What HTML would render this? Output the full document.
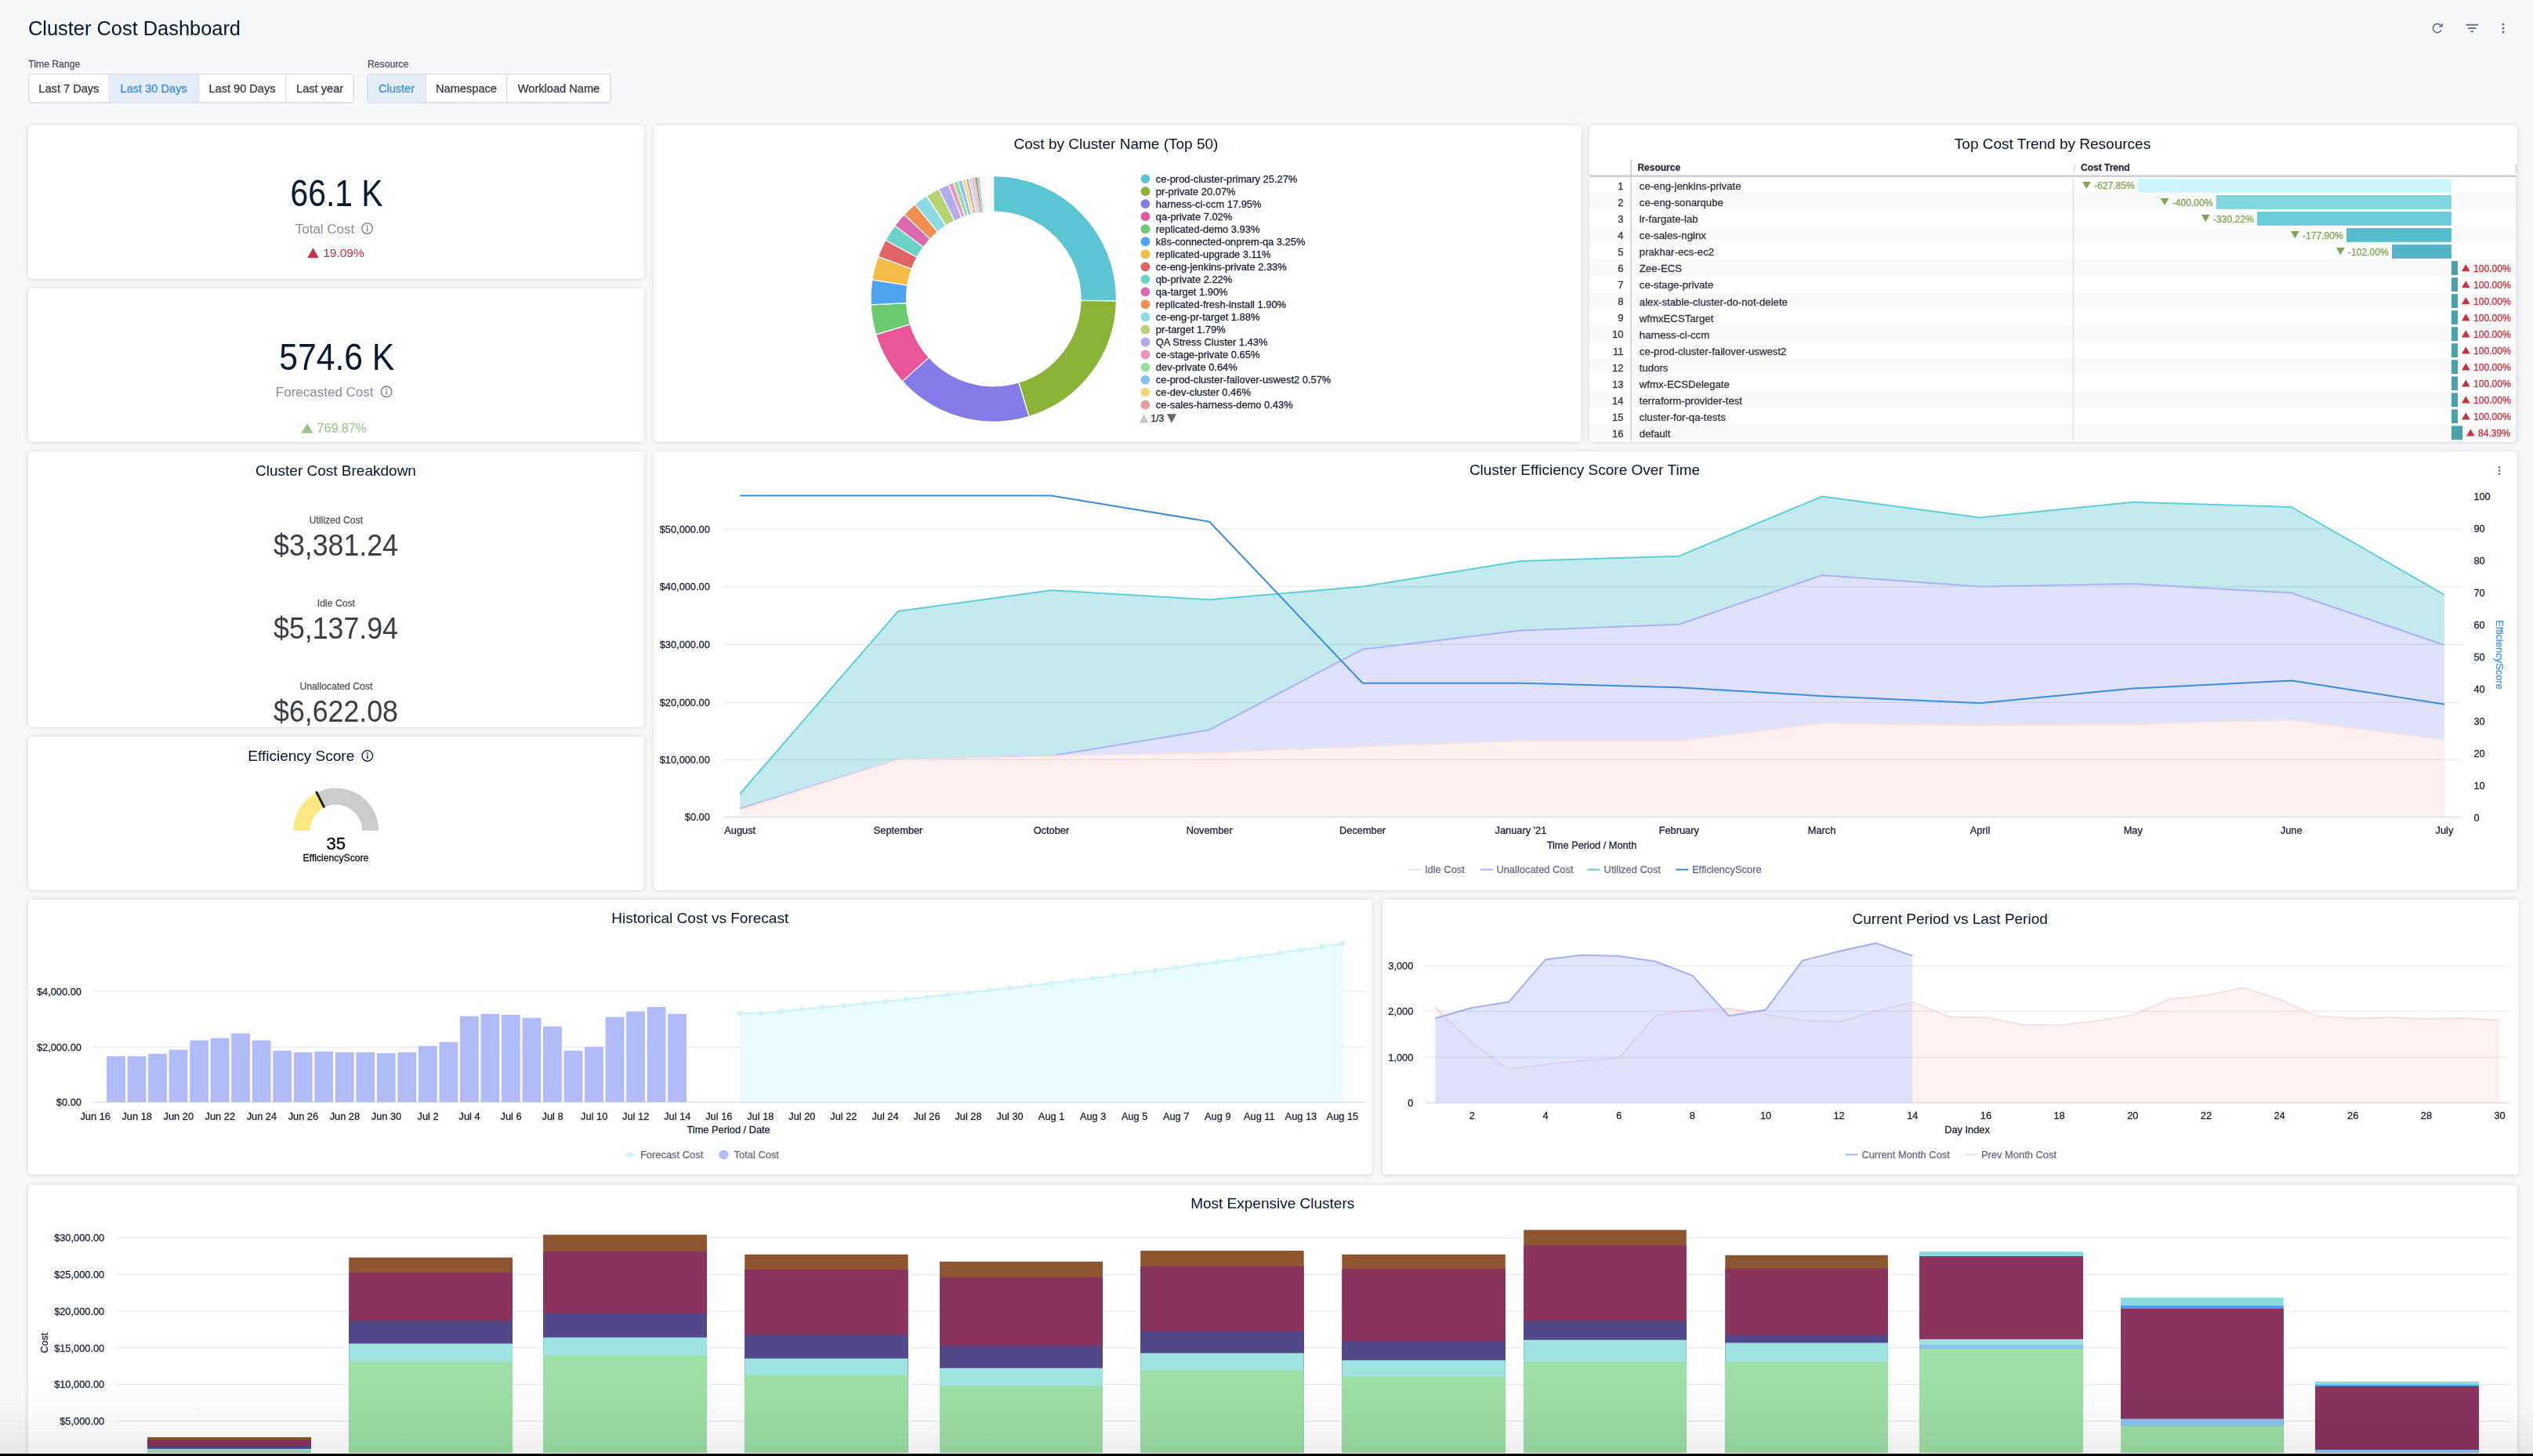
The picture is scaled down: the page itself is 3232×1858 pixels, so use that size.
<!DOCTYPE html>
<html><head><meta charset="utf-8"><style>
html,body{margin:0;padding:0;background:#f7f8fa;width:3232px;height:1858px;overflow:hidden}
svg{display:block;will-change:transform;font-family:"Liberation Sans", sans-serif}
text{stroke:currentColor;stroke-width:0.3px}
</style></head><body>
<svg width="3232" height="1858" viewBox="0 0 3232 1858">
<defs>
<filter id="sh" x="-5%" y="-5%" width="110%" height="110%">
<feDropShadow dx="0" dy="0" stdDeviation="4.5" flood-color="#000" flood-opacity="0.085"/>
<feDropShadow dx="0" dy="0.5" stdDeviation="0.8" flood-color="#000" flood-opacity="0.10"/>
</filter>
<linearGradient id="fade" x1="0" y1="0" x2="0" y2="1">
<stop offset="0" stop-color="#000" stop-opacity="0"/>
<stop offset="0.45" stop-color="#000" stop-opacity="0.02"/>
<stop offset="1" stop-color="#000" stop-opacity="0.068"/>
</linearGradient>
</defs>
<rect x="0" y="0" width="3232" height="1858" fill="#f7f8fa"/>
<text x="36.0" y="44.6" font-size="25.4" fill="#0b1a33" color="#0b1a33" text-anchor="start" style="stroke-width:0.05px" >Cluster Cost Dashboard</text>
<path d="M3114.94,38.63 A5.6,5.6 0 1 1 3114.16,32.25" fill="none" stroke="#6b7385" stroke-width="1.7"/>
<path d="M3116.8,29.2 L3116.8,34.6 L3111.3,34.6 Z" fill="#6b7385"/>
<rect x="3146.50" y="30.70" width="15.50" height="2.00" fill="#6b7385" />
<rect x="3149.20" y="35.00" width="10.00" height="2.00" fill="#6b7385" />
<rect x="3152.30" y="39.20" width="3.80" height="2.00" fill="#6b7385" />
<circle cx="3194" cy="31" r="1.6" fill="#6b7385"/>
<circle cx="3194" cy="36" r="1.6" fill="#6b7385"/>
<circle cx="3194" cy="41" r="1.6" fill="#6b7385"/>
<text x="36.3" y="86.0" font-size="12.2" fill="#4f5162" color="#4f5162" text-anchor="start" >Time Range</text>
<text x="469.0" y="86.0" font-size="12.2" fill="#4f5162" color="#4f5162" text-anchor="start" >Resource</text>
<rect x="36.6" y="94.5" width="414.7" height="36.5" rx="4" fill="#fff" stroke="#d9dae5" stroke-width="1.2"/>
<text x="87.9" y="118.4" font-size="14.6" fill="#383946" color="#383946" text-anchor="middle" >Last 7 Days</text>
<rect x="139.79999999999998" y="95.1" width="112.8" height="35.3" fill="#e5edf8"/>
<text x="196.2" y="118.4" font-size="14.6" fill="#3f8ee2" color="#3f8ee2" text-anchor="middle" >Last 30 Days</text>
<text x="309.0" y="118.4" font-size="14.6" fill="#383946" color="#383946" text-anchor="middle" >Last 90 Days</text>
<text x="408.1" y="118.4" font-size="14.6" fill="#383946" color="#383946" text-anchor="middle" >Last year</text>
<line x1="139.20" y1="94.50" x2="139.20" y2="131.00" stroke="#d9dae5" stroke-width="1.2" />
<line x1="253.20" y1="94.50" x2="253.20" y2="131.00" stroke="#d9dae5" stroke-width="1.2" />
<line x1="364.80" y1="94.50" x2="364.80" y2="131.00" stroke="#d9dae5" stroke-width="1.2" />
<rect x="36.6" y="94.5" width="414.7" height="36.5" rx="4" fill="none" stroke="#d9dae5" stroke-width="1.2"/>
<rect x="468.8" y="94.5" width="310.40000000000003" height="36.5" rx="4" fill="#fff" stroke="#d9dae5" stroke-width="1.2"/>
<rect x="469.40000000000003" y="95.1" width="73.20000000000003" height="35.3" fill="#e5edf8"/>
<text x="506.0" y="118.4" font-size="14.6" fill="#3f8ee2" color="#3f8ee2" text-anchor="middle" >Cluster</text>
<text x="595.0" y="118.4" font-size="14.6" fill="#383946" color="#383946" text-anchor="middle" >Namespace</text>
<text x="713.0" y="118.4" font-size="14.6" fill="#383946" color="#383946" text-anchor="middle" >Workload Name</text>
<line x1="543.20" y1="94.50" x2="543.20" y2="131.00" stroke="#d9dae5" stroke-width="1.2" />
<line x1="646.80" y1="94.50" x2="646.80" y2="131.00" stroke="#d9dae5" stroke-width="1.2" />
<rect x="468.8" y="94.5" width="310.40000000000003" height="36.5" rx="4" fill="none" stroke="#d9dae5" stroke-width="1.2"/>
<rect x="36" y="160" width="786" height="196" rx="5" fill="#fff" filter="url(#sh)"/>
<rect x="36" y="368" width="786" height="196" rx="5" fill="#fff" filter="url(#sh)"/>
<rect x="36" y="576" width="786" height="352" rx="5" fill="#fff" filter="url(#sh)"/>
<rect x="36" y="940" width="786" height="196" rx="5" fill="#fff" filter="url(#sh)"/>
<rect x="834" y="160" width="1184" height="404" rx="5" fill="#fff" filter="url(#sh)"/>
<rect x="2028" y="160" width="1184" height="404" rx="5" fill="#fff" filter="url(#sh)"/>
<rect x="834" y="576" width="2378" height="560" rx="5" fill="#fff" filter="url(#sh)"/>
<rect x="36" y="1148" width="1715" height="351" rx="5" fill="#fff" filter="url(#sh)"/>
<rect x="1764" y="1148" width="1450" height="351" rx="5" fill="#fff" filter="url(#sh)"/>
<rect x="36" y="1512" width="3176" height="388" rx="5" fill="#fff" filter="url(#sh)"/>
<text transform="translate(429.5,263.2) scale(0.852,1)" font-size="48" fill="#0b1a33" color="#0b1a33" text-anchor="middle" style="stroke-width:0.05px" >66.1 K</text>
<text x="414.5" y="298.0" font-size="17" fill="#8a8d9f" color="#8a8d9f" text-anchor="middle" style="stroke-width:0.05px" >Total Cost</text>
<circle cx="468.6" cy="291.5" r="6.8" fill="none" stroke="#717887" stroke-width="1.3"/>
<circle cx="468.6" cy="288.3" r="1" fill="#717887"/>
<line x1="468.6" y1="290.5" x2="468.6" y2="295.5" stroke="#717887" stroke-width="1.4"/>
<path d="M392.3,329 L406.6,329 L399.45,316.2 Z" fill="#c8323e"/>
<text x="412.2" y="327.9" font-size="15.5" fill="#c8323e" color="#c8323e" text-anchor="start" style="stroke-width:0.05px" >19.09%</text>
<text transform="translate(429.8,471.6) scale(0.888,1)" font-size="48" fill="#0b1a33" color="#0b1a33" text-anchor="middle" style="stroke-width:0.05px" >574.6 K</text>
<text x="414.2" y="506.2" font-size="17" fill="#8a8d9f" color="#8a8d9f" text-anchor="middle" style="stroke-width:0.05px" >Forecasted Cost</text>
<circle cx="493.1" cy="499.8" r="6.8" fill="none" stroke="#717887" stroke-width="1.3"/>
<circle cx="493.1" cy="496.6" r="1" fill="#717887"/>
<line x1="493.1" y1="498.8" x2="493.1" y2="503.8" stroke="#717887" stroke-width="1.4"/>
<path d="M384.7,552.8 L399.3,552.8 L392,540 Z" fill="#9cc48a"/>
<text x="404.6" y="551.9" font-size="16" fill="#9cc48a" color="#9cc48a" text-anchor="start" style="stroke-width:0.05px" >769.87%</text>
<text x="428.5" y="606.8" font-size="19" fill="#0b1a33" color="#0b1a33" text-anchor="middle" style="stroke-width:0.05px" >Cluster Cost Breakdown</text>
<text x="428.9" y="668.1" font-size="12.2" fill="#555960" color="#555960" text-anchor="middle" >Utilized Cost</text>
<text transform="translate(428.5,708.6) scale(0.94,1)" font-size="38" fill="#3b4046" color="#3b4046" text-anchor="middle" style="stroke-width:0.05px" >$3,381.24</text>
<text x="428.9" y="774.0" font-size="12.2" fill="#555960" color="#555960" text-anchor="middle" >Idle Cost</text>
<text transform="translate(428.5,814.6) scale(0.94,1)" font-size="38" fill="#3b4046" color="#3b4046" text-anchor="middle" style="stroke-width:0.05px" >$5,137.94</text>
<text x="428.9" y="880.2" font-size="12.2" fill="#555960" color="#555960" text-anchor="middle" >Unallocated Cost</text>
<text transform="translate(428.5,920.6) scale(0.94,1)" font-size="38" fill="#3b4046" color="#3b4046" text-anchor="middle" style="stroke-width:0.05px" >$6,622.08</text>
<text x="384.3" y="970.7" font-size="19" fill="#0b1a33" color="#0b1a33" text-anchor="middle" style="stroke-width:0.05px" >Efficiency Score</text>
<circle cx="468.8" cy="964.5" r="6.8" fill="none" stroke="#0b1a33" stroke-width="1.3"/>
<circle cx="468.8" cy="961.3" r="1" fill="#0b1a33"/>
<line x1="468.8" y1="963.5" x2="468.8" y2="968.5" stroke="#0b1a33" stroke-width="1.4"/>
<path d="M374.40,1060.00 A54.4,54.4 0 0 1 404.10,1011.53 L413.73,1030.42 A33.2,33.2 0 0 0 395.60,1060.00 Z" fill="#fce983"/>
<path d="M404.10,1011.53 A54.4,54.4 0 0 1 483.20,1060.00 L462.00,1060.00 A33.2,33.2 0 0 0 413.73,1030.42 Z" fill="#cccccc"/>
<line x1="413.82" y1="1030.60" x2="403.38" y2="1010.10" stroke="#1e1e1e" stroke-width="3"/>
<text x="428.8" y="1084.4" font-size="22" fill="#111" color="#111" text-anchor="middle" style="stroke-width:0.45px">35</text>
<text x="428.5" y="1099.4" font-size="12.2" fill="#111" color="#111" text-anchor="middle" >EfficiencyScore</text>
<text x="1424.0" y="190.1" font-size="19" fill="#0b1a33" color="#0b1a33" text-anchor="middle" style="stroke-width:0.05px" >Cost by Cluster Name (Top 50)</text>
<path d="M1267.70,224.60 A156.8,156.8 0 0 1 1424.48,384.06 L1378.98,383.29 A111.3,111.3 0 0 0 1267.70,270.10 Z" fill="#5bc5d4" stroke="#fff" stroke-width="1.2"/>
<path d="M1424.48,384.06 A156.8,156.8 0 0 1 1312.96,531.53 L1299.82,487.96 A111.3,111.3 0 0 0 1378.98,383.29 Z" fill="#8bb336" stroke="#fff" stroke-width="1.2"/>
<path d="M1312.96,531.53 A156.8,156.8 0 0 1 1151.46,486.64 L1185.19,456.10 A111.3,111.3 0 0 0 1299.82,487.96 Z" fill="#857be6" stroke="#fff" stroke-width="1.2"/>
<path d="M1151.46,486.64 A156.8,156.8 0 0 1 1117.66,426.94 L1161.20,413.73 A111.3,111.3 0 0 0 1185.19,456.10 Z" fill="#ea559a" stroke="#fff" stroke-width="1.2"/>
<path d="M1117.66,426.94 A156.8,156.8 0 0 1 1111.08,388.88 L1156.53,386.71 A111.3,111.3 0 0 0 1161.20,413.73 Z" fill="#6bcb70" stroke="#fff" stroke-width="1.2"/>
<path d="M1111.08,388.88 A156.8,156.8 0 0 1 1112.82,356.97 L1157.76,364.06 A111.3,111.3 0 0 0 1156.53,386.71 Z" fill="#50a3ee" stroke="#fff" stroke-width="1.2"/>
<path d="M1112.82,356.97 A156.8,156.8 0 0 1 1120.51,327.36 L1163.22,343.04 A111.3,111.3 0 0 0 1157.76,364.06 Z" fill="#f5bc47" stroke="#fff" stroke-width="1.2"/>
<path d="M1120.51,327.36 A156.8,156.8 0 0 1 1129.96,306.47 L1169.93,328.21 A111.3,111.3 0 0 0 1163.22,343.04 Z" fill="#e06465" stroke="#fff" stroke-width="1.2"/>
<path d="M1129.96,306.47 A156.8,156.8 0 0 1 1141.72,288.04 L1178.28,315.13 A111.3,111.3 0 0 0 1169.93,328.21 Z" fill="#6cd3c9" stroke="#fff" stroke-width="1.2"/>
<path d="M1141.72,288.04 A156.8,156.8 0 0 1 1153.74,273.70 L1186.81,304.96 A111.3,111.3 0 0 0 1178.28,315.13 Z" fill="#dd69b1" stroke="#fff" stroke-width="1.2"/>
<path d="M1153.74,273.70 A156.8,156.8 0 0 1 1167.37,260.90 L1196.49,295.87 A111.3,111.3 0 0 0 1186.81,304.96 Z" fill="#f0904f" stroke="#fff" stroke-width="1.2"/>
<path d="M1167.37,260.90 A156.8,156.8 0 0 1 1182.27,249.91 L1207.06,288.07 A111.3,111.3 0 0 0 1196.49,295.87 Z" fill="#8bdbe5" stroke="#fff" stroke-width="1.2"/>
<path d="M1182.27,249.91 A156.8,156.8 0 0 1 1197.57,241.16 L1217.92,281.85 A111.3,111.3 0 0 0 1207.06,288.07 Z" fill="#b8d373" stroke="#fff" stroke-width="1.2"/>
<path d="M1197.57,241.16 A156.8,156.8 0 0 1 1210.44,235.43 L1227.05,277.79 A111.3,111.3 0 0 0 1217.92,281.85 Z" fill="#b5acf0" stroke="#fff" stroke-width="1.2"/>
<path d="M1210.44,235.43 A156.8,156.8 0 0 1 1216.44,233.21 L1231.32,276.21 A111.3,111.3 0 0 0 1227.05,277.79 Z" fill="#ef93c3" stroke="#fff" stroke-width="1.2"/>
<path d="M1216.44,233.21 A156.8,156.8 0 0 1 1222.44,231.27 L1235.58,274.84 A111.3,111.3 0 0 0 1231.32,276.21 Z" fill="#98dea0" stroke="#fff" stroke-width="1.2"/>
<path d="M1222.44,231.27 A156.8,156.8 0 0 1 1227.85,229.75 L1239.41,273.75 A111.3,111.3 0 0 0 1235.58,274.84 Z" fill="#85c4f3" stroke="#fff" stroke-width="1.2"/>
<path d="M1227.85,229.75 A156.8,156.8 0 0 1 1232.25,228.66 L1242.53,272.98 A111.3,111.3 0 0 0 1239.41,273.75 Z" fill="#f8d67a" stroke="#fff" stroke-width="1.2"/>
<path d="M1232.25,228.66 A156.8,156.8 0 0 1 1236.39,227.76 L1245.47,272.34 A111.3,111.3 0 0 0 1242.53,272.98 Z" fill="#e99d9d" stroke="#fff" stroke-width="1.2"/>
<path d="M1236.39,227.76 A156.8,156.8 0 0 1 1239.47,227.16 L1247.66,271.92 A111.3,111.3 0 0 0 1245.47,272.34 Z" fill="#8fe3dc" stroke="#fff" stroke-width="1.2"/>
<path d="M1239.47,227.16 A156.8,156.8 0 0 1 1242.15,226.70 L1249.57,271.59 A111.3,111.3 0 0 0 1247.66,271.92 Z" fill="#eea5dc" stroke="#fff" stroke-width="0.5"/>
<path d="M1242.15,226.70 A156.8,156.8 0 0 1 1244.43,226.34 L1251.18,271.33 A111.3,111.3 0 0 0 1249.57,271.59 Z" fill="#f5b07f" stroke="#fff" stroke-width="0.5"/>
<path d="M1244.43,226.34 A156.8,156.8 0 0 1 1246.40,226.05 L1252.58,271.13 A111.3,111.3 0 0 0 1251.18,271.33 Z" fill="#2f7b88" stroke="#fff" stroke-width="0.5"/>
<path d="M1246.40,226.05 A156.8,156.8 0 0 1 1248.16,225.82 L1253.83,270.97 A111.3,111.3 0 0 0 1252.58,271.13 Z" fill="#a3b56c" stroke="#fff" stroke-width="0.5"/>
<path d="M1248.16,225.82 A156.8,156.8 0 0 1 1249.72,225.63 L1254.94,270.83 A111.3,111.3 0 0 0 1253.83,270.97 Z" fill="#9a93d3" stroke="#fff" stroke-width="0.5"/>
<path d="M1249.72,225.63 A156.8,156.8 0 0 1 1251.08,225.48 L1255.90,270.73 A111.3,111.3 0 0 0 1254.94,270.83 Z" fill="#e5e5ea" stroke="#fff" stroke-width="0.5"/>
<path d="M1251.08,225.48 A156.8,156.8 0 0 1 1252.33,225.36 L1256.79,270.64 A111.3,111.3 0 0 0 1255.90,270.73 Z" fill="#f0e6ea" stroke="#fff" stroke-width="0.5"/>
<path d="M1252.33,225.36 A156.8,156.8 0 0 1 1253.48,225.25 L1257.60,270.56 A111.3,111.3 0 0 0 1256.79,270.64 Z" fill="#eef4f4" stroke="#fff" stroke-width="0.5"/>
<path d="M1253.48,225.25 A156.8,156.8 0 0 1 1254.52,225.16 L1258.34,270.49 A111.3,111.3 0 0 0 1257.60,270.56 Z" fill="#f4eef0" stroke="#fff" stroke-width="0.5"/>
<path d="M1254.52,225.16 A156.8,156.8 0 0 1 1255.14,225.10 L1258.79,270.46 A111.3,111.3 0 0 0 1258.34,270.49 Z" fill="#eeeeee" stroke="#fff" stroke-width="0.5"/>
<path d="M1255.14,225.10 A156.8,156.8 0 0 1 1255.77,225.05 L1259.23,270.42 A111.3,111.3 0 0 0 1258.79,270.46 Z" fill="#eeeeee" stroke="#fff" stroke-width="0.5"/>
<path d="M1255.77,225.05 A156.8,156.8 0 0 1 1256.40,225.01 L1259.68,270.39 A111.3,111.3 0 0 0 1259.23,270.42 Z" fill="#eeeeee" stroke="#fff" stroke-width="0.5"/>
<path d="M1256.40,225.01 A156.8,156.8 0 0 1 1257.02,224.96 L1260.12,270.36 A111.3,111.3 0 0 0 1259.68,270.39 Z" fill="#eeeeee" stroke="#fff" stroke-width="0.5"/>
<path d="M1257.02,224.96 A156.8,156.8 0 0 1 1257.65,224.92 L1260.57,270.33 A111.3,111.3 0 0 0 1260.12,270.36 Z" fill="#eeeeee" stroke="#fff" stroke-width="0.5"/>
<path d="M1257.65,224.92 A156.8,156.8 0 0 1 1258.28,224.88 L1261.01,270.30 A111.3,111.3 0 0 0 1260.57,270.33 Z" fill="#eeeeee" stroke="#fff" stroke-width="0.5"/>
<path d="M1258.28,224.88 A156.8,156.8 0 0 1 1258.91,224.85 L1261.46,270.28 A111.3,111.3 0 0 0 1261.01,270.30 Z" fill="#eeeeee" stroke="#fff" stroke-width="0.5"/>
<path d="M1258.91,224.85 A156.8,156.8 0 0 1 1259.53,224.81 L1261.90,270.25 A111.3,111.3 0 0 0 1261.46,270.28 Z" fill="#eeeeee" stroke="#fff" stroke-width="0.5"/>
<path d="M1259.53,224.81 A156.8,156.8 0 0 1 1260.16,224.78 L1262.35,270.23 A111.3,111.3 0 0 0 1261.90,270.25 Z" fill="#eeeeee" stroke="#fff" stroke-width="0.5"/>
<path d="M1260.16,224.78 A156.8,156.8 0 0 1 1260.79,224.75 L1262.79,270.21 A111.3,111.3 0 0 0 1262.35,270.23 Z" fill="#eeeeee" stroke="#fff" stroke-width="0.5"/>
<path d="M1260.79,224.75 A156.8,156.8 0 0 1 1261.42,224.73 L1263.24,270.19 A111.3,111.3 0 0 0 1262.79,270.21 Z" fill="#eeeeee" stroke="#fff" stroke-width="0.5"/>
<path d="M1261.42,224.73 A156.8,156.8 0 0 1 1262.05,224.70 L1263.69,270.17 A111.3,111.3 0 0 0 1263.24,270.19 Z" fill="#eeeeee" stroke="#fff" stroke-width="0.5"/>
<path d="M1262.05,224.70 A156.8,156.8 0 0 1 1262.67,224.68 L1264.13,270.16 A111.3,111.3 0 0 0 1263.69,270.17 Z" fill="#eeeeee" stroke="#fff" stroke-width="0.5"/>
<path d="M1262.67,224.68 A156.8,156.8 0 0 1 1263.30,224.66 L1264.58,270.14 A111.3,111.3 0 0 0 1264.13,270.16 Z" fill="#eeeeee" stroke="#fff" stroke-width="0.5"/>
<path d="M1263.30,224.66 A156.8,156.8 0 0 1 1263.93,224.65 L1265.02,270.13 A111.3,111.3 0 0 0 1264.58,270.14 Z" fill="#eeeeee" stroke="#fff" stroke-width="0.5"/>
<path d="M1263.93,224.65 A156.8,156.8 0 0 1 1264.56,224.63 L1265.47,270.12 A111.3,111.3 0 0 0 1265.02,270.13 Z" fill="#eeeeee" stroke="#fff" stroke-width="0.5"/>
<path d="M1264.56,224.63 A156.8,156.8 0 0 1 1265.19,224.62 L1265.92,270.11 A111.3,111.3 0 0 0 1265.47,270.12 Z" fill="#eeeeee" stroke="#fff" stroke-width="0.5"/>
<path d="M1265.19,224.62 A156.8,156.8 0 0 1 1265.81,224.61 L1266.36,270.11 A111.3,111.3 0 0 0 1265.92,270.11 Z" fill="#eeeeee" stroke="#fff" stroke-width="0.5"/>
<path d="M1265.81,224.61 A156.8,156.8 0 0 1 1266.44,224.61 L1266.81,270.10 A111.3,111.3 0 0 0 1266.36,270.11 Z" fill="#eeeeee" stroke="#fff" stroke-width="0.5"/>
<path d="M1266.44,224.61 A156.8,156.8 0 0 1 1267.07,224.60 L1267.25,270.10 A111.3,111.3 0 0 0 1266.81,270.10 Z" fill="#eeeeee" stroke="#fff" stroke-width="0.5"/>
<path d="M1267.07,224.60 A156.8,156.8 0 0 1 1267.70,224.60 L1267.70,270.10 A111.3,111.3 0 0 0 1267.25,270.10 Z" fill="#eeeeee" stroke="#fff" stroke-width="0.5"/>
<circle cx="1461.4" cy="228.10" r="5.9" fill="#5bc5d4"/>
<text x="1474.8" y="232.7" font-size="12.9" fill="#1b2235" color="#1b2235" text-anchor="start" >ce-prod-cluster-primary 25.27%</text>
<circle cx="1461.4" cy="244.13" r="5.9" fill="#8bb336"/>
<text x="1474.8" y="248.7" font-size="12.9" fill="#1b2235" color="#1b2235" text-anchor="start" >pr-private 20.07%</text>
<circle cx="1461.4" cy="260.16" r="5.9" fill="#857be6"/>
<text x="1474.8" y="264.8" font-size="12.9" fill="#1b2235" color="#1b2235" text-anchor="start" >harness-ci-ccm 17.95%</text>
<circle cx="1461.4" cy="276.19" r="5.9" fill="#ea559a"/>
<text x="1474.8" y="280.8" font-size="12.9" fill="#1b2235" color="#1b2235" text-anchor="start" >qa-private 7.02%</text>
<circle cx="1461.4" cy="292.22" r="5.9" fill="#6bcb70"/>
<text x="1474.8" y="296.8" font-size="12.9" fill="#1b2235" color="#1b2235" text-anchor="start" >replicated-demo 3.93%</text>
<circle cx="1461.4" cy="308.25" r="5.9" fill="#50a3ee"/>
<text x="1474.8" y="312.9" font-size="12.9" fill="#1b2235" color="#1b2235" text-anchor="start" >k8s-connected-onprem-qa 3.25%</text>
<circle cx="1461.4" cy="324.28" r="5.9" fill="#f5bc47"/>
<text x="1474.8" y="328.9" font-size="12.9" fill="#1b2235" color="#1b2235" text-anchor="start" >replicated-upgrade 3.11%</text>
<circle cx="1461.4" cy="340.31" r="5.9" fill="#e06465"/>
<text x="1474.8" y="344.9" font-size="12.9" fill="#1b2235" color="#1b2235" text-anchor="start" >ce-eng-jenkins-private 2.33%</text>
<circle cx="1461.4" cy="356.34" r="5.9" fill="#6cd3c9"/>
<text x="1474.8" y="361.0" font-size="12.9" fill="#1b2235" color="#1b2235" text-anchor="start" >qb-private 2.22%</text>
<circle cx="1461.4" cy="372.37" r="5.9" fill="#dd69b1"/>
<text x="1474.8" y="377.0" font-size="12.9" fill="#1b2235" color="#1b2235" text-anchor="start" >qa-target 1.90%</text>
<circle cx="1461.4" cy="388.40" r="5.9" fill="#f0904f"/>
<text x="1474.8" y="393.0" font-size="12.9" fill="#1b2235" color="#1b2235" text-anchor="start" >replicated-fresh-install 1.90%</text>
<circle cx="1461.4" cy="404.43" r="5.9" fill="#8bdbe5"/>
<text x="1474.8" y="409.0" font-size="12.9" fill="#1b2235" color="#1b2235" text-anchor="start" >ce-eng-pr-target 1.88%</text>
<circle cx="1461.4" cy="420.46" r="5.9" fill="#b8d373"/>
<text x="1474.8" y="425.1" font-size="12.9" fill="#1b2235" color="#1b2235" text-anchor="start" >pr-target 1.79%</text>
<circle cx="1461.4" cy="436.49" r="5.9" fill="#b5acf0"/>
<text x="1474.8" y="441.1" font-size="12.9" fill="#1b2235" color="#1b2235" text-anchor="start" >QA Stress Cluster 1.43%</text>
<circle cx="1461.4" cy="452.52" r="5.9" fill="#ef93c3"/>
<text x="1474.8" y="457.1" font-size="12.9" fill="#1b2235" color="#1b2235" text-anchor="start" >ce-stage-private 0.65%</text>
<circle cx="1461.4" cy="468.55" r="5.9" fill="#98dea0"/>
<text x="1474.8" y="473.2" font-size="12.9" fill="#1b2235" color="#1b2235" text-anchor="start" >dev-private 0.64%</text>
<circle cx="1461.4" cy="484.58" r="5.9" fill="#85c4f3"/>
<text x="1474.8" y="489.2" font-size="12.9" fill="#1b2235" color="#1b2235" text-anchor="start" >ce-prod-cluster-failover-uswest2 0.57%</text>
<circle cx="1461.4" cy="500.61" r="5.9" fill="#f8d67a"/>
<text x="1474.8" y="505.2" font-size="12.9" fill="#1b2235" color="#1b2235" text-anchor="start" >ce-dev-cluster 0.46%</text>
<circle cx="1461.4" cy="516.64" r="5.9" fill="#e99d9d"/>
<text x="1474.8" y="521.3" font-size="12.9" fill="#1b2235" color="#1b2235" text-anchor="start" >ce-sales-harness-demo 0.43%</text>
<path d="M1453.7,539.8 L1465.5,539.8 L1459.6,528.2 Z" fill="#c8c8c8"/>
<text x="1468.4" y="538.0" font-size="12.2" fill="#1b2235" color="#1b2235" text-anchor="start" >1/3</text>
<path d="M1488.9,528.2 L1501,528.2 L1494.95,539.8 Z" fill="#666"/>
<text x="2619.0" y="190.3" font-size="19" fill="#0b1a33" color="#0b1a33" text-anchor="middle" style="stroke-width:0.05px" >Top Cost Trend by Resources</text>
<text x="2089.4" y="217.9" font-size="12" fill="#30333e" color="#30333e" text-anchor="start" font-weight="bold" >Resource</text>
<text x="2655.0" y="217.9" font-size="12" fill="#30333e" color="#30333e" text-anchor="start" font-weight="bold" >Cost Trend</text>
<line x1="2081.20" y1="204.00" x2="2081.20" y2="224.00" stroke="#c9cbd2" stroke-width="1.5" />
<line x1="2646.80" y1="209.00" x2="2646.80" y2="220.00" stroke="#c9cbd2" stroke-width="1" />
<rect x="3209.50" y="209.00" width="2.00" height="12.00" fill="#d6d7dc" />
<rect x="2028.00" y="223.60" width="1183.00" height="2.20" fill="#c5c7cd" />
<rect x="2028.00" y="247.03" width="1182.00" height="21.03" fill="#fafafa" />
<rect x="2028.00" y="289.09" width="1182.00" height="21.03" fill="#fafafa" />
<rect x="2028.00" y="331.15" width="1182.00" height="21.03" fill="#fafafa" />
<rect x="2028.00" y="373.21" width="1182.00" height="21.03" fill="#fafafa" />
<rect x="2028.00" y="415.27" width="1182.00" height="21.03" fill="#fafafa" />
<rect x="2028.00" y="457.33" width="1182.00" height="21.03" fill="#fafafa" />
<rect x="2028.00" y="499.39" width="1182.00" height="21.03" fill="#fafafa" />
<rect x="2028.00" y="541.45" width="1182.00" height="21.03" fill="#fafafa" />
<text x="2071.5" y="242.2" font-size="13" fill="#30333e" color="#30333e" text-anchor="end" >1</text>
<text x="2091.8" y="242.2" font-size="13.2" fill="#30333e" color="#30333e" text-anchor="start" >ce-eng-jenkins-private</text>
<path d="M2657.0,232.0 L2667.7,232.0 L2662.3,241.1 Z" fill="#7ea652"/>
<text x="2672.0" y="241.4" font-size="12.1" fill="#7ea652" color="#7ea652" text-anchor="start" >-627.85%</text>
<rect x="2728.00" y="228.00" width="399.90" height="17.80" fill="#cbf6fb" />
<text x="2071.5" y="263.2" font-size="13" fill="#30333e" color="#30333e" text-anchor="end" >2</text>
<text x="2091.8" y="263.3" font-size="13.2" fill="#30333e" color="#30333e" text-anchor="start" >ce-eng-sonarqube</text>
<path d="M2756.7,253.0 L2767.4,253.0 L2762.0,262.1 Z" fill="#7ea652"/>
<text x="2771.7" y="262.5" font-size="12.1" fill="#7ea652" color="#7ea652" text-anchor="start" >-400.00%</text>
<rect x="2827.70" y="249.03" width="300.20" height="17.80" fill="#7fd5e0" />
<text x="2071.5" y="284.2" font-size="13" fill="#30333e" color="#30333e" text-anchor="end" >3</text>
<text x="2091.8" y="284.3" font-size="13.2" fill="#30333e" color="#30333e" text-anchor="start" >lr-fargate-lab</text>
<path d="M2809.0,274.1 L2819.7,274.1 L2814.3,283.2 Z" fill="#7ea652"/>
<text x="2824.0" y="283.5" font-size="12.1" fill="#7ea652" color="#7ea652" text-anchor="start" >-330.22%</text>
<rect x="2880.00" y="270.06" width="247.90" height="17.80" fill="#6acbdb" />
<text x="2071.5" y="305.3" font-size="13" fill="#30333e" color="#30333e" text-anchor="end" >4</text>
<text x="2091.8" y="305.3" font-size="13.2" fill="#30333e" color="#30333e" text-anchor="start" >ce-sales-nginx</text>
<path d="M2923.0,295.1 L2933.7,295.1 L2928.3,304.2 Z" fill="#7ea652"/>
<text x="2938.0" y="304.5" font-size="12.1" fill="#7ea652" color="#7ea652" text-anchor="start" >-177.90%</text>
<rect x="2994.00" y="291.09" width="133.90" height="17.80" fill="#56bccb" />
<text x="2071.5" y="326.3" font-size="13" fill="#30333e" color="#30333e" text-anchor="end" >5</text>
<text x="2091.8" y="326.4" font-size="13.2" fill="#30333e" color="#30333e" text-anchor="start" >prakhar-ecs-ec2</text>
<path d="M2981.0,316.1 L2991.7,316.1 L2986.3,325.2 Z" fill="#7ea652"/>
<text x="2996.0" y="325.6" font-size="12.1" fill="#7ea652" color="#7ea652" text-anchor="start" >-102.00%</text>
<rect x="3052.00" y="312.12" width="75.90" height="17.80" fill="#52b4c4" />
<text x="2071.5" y="347.3" font-size="13" fill="#30333e" color="#30333e" text-anchor="end" >6</text>
<text x="2091.8" y="347.4" font-size="13.2" fill="#30333e" color="#30333e" text-anchor="start" >Zee-ECS</text>
<rect x="3127.90" y="333.15" width="8.10" height="17.80" fill="#4aa0ab" />
<path d="M3141.0,346.3 L3151.7,346.3 L3146.3,337.2 Z" fill="#c8323e"/>
<text x="3156.0" y="346.6" font-size="12.1" fill="#c8323e" color="#c8323e" text-anchor="start" >100.00%</text>
<text x="2071.5" y="368.3" font-size="13" fill="#30333e" color="#30333e" text-anchor="end" >7</text>
<text x="2091.8" y="368.4" font-size="13.2" fill="#30333e" color="#30333e" text-anchor="start" >ce-stage-private</text>
<rect x="3127.90" y="354.18" width="8.10" height="17.80" fill="#4aa0ab" />
<path d="M3141.0,367.3 L3151.7,367.3 L3146.3,358.2 Z" fill="#c8323e"/>
<text x="3156.0" y="367.6" font-size="12.1" fill="#c8323e" color="#c8323e" text-anchor="start" >100.00%</text>
<text x="2071.5" y="389.4" font-size="13" fill="#30333e" color="#30333e" text-anchor="end" >8</text>
<text x="2091.8" y="389.5" font-size="13.2" fill="#30333e" color="#30333e" text-anchor="start" >alex-stable-cluster-do-not-delete</text>
<rect x="3127.90" y="375.21" width="8.10" height="17.80" fill="#4aa0ab" />
<path d="M3141.0,388.3 L3151.7,388.3 L3146.3,379.2 Z" fill="#c8323e"/>
<text x="3156.0" y="388.7" font-size="12.1" fill="#c8323e" color="#c8323e" text-anchor="start" >100.00%</text>
<text x="2071.5" y="410.4" font-size="13" fill="#30333e" color="#30333e" text-anchor="end" >9</text>
<text x="2091.8" y="410.5" font-size="13.2" fill="#30333e" color="#30333e" text-anchor="start" >wfmxECSTarget</text>
<rect x="3127.90" y="396.24" width="8.10" height="17.80" fill="#4aa0ab" />
<path d="M3141.0,409.4 L3151.7,409.4 L3146.3,400.3 Z" fill="#c8323e"/>
<text x="3156.0" y="409.7" font-size="12.1" fill="#c8323e" color="#c8323e" text-anchor="start" >100.00%</text>
<text x="2071.5" y="431.4" font-size="13" fill="#30333e" color="#30333e" text-anchor="end" >10</text>
<text x="2091.8" y="431.5" font-size="13.2" fill="#30333e" color="#30333e" text-anchor="start" >harness-ci-ccm</text>
<rect x="3127.90" y="417.27" width="8.10" height="17.80" fill="#4aa0ab" />
<path d="M3141.0,430.4 L3151.7,430.4 L3146.3,421.3 Z" fill="#c8323e"/>
<text x="3156.0" y="430.7" font-size="12.1" fill="#c8323e" color="#c8323e" text-anchor="start" >100.00%</text>
<text x="2071.5" y="452.5" font-size="13" fill="#30333e" color="#30333e" text-anchor="end" >11</text>
<text x="2091.8" y="452.5" font-size="13.2" fill="#30333e" color="#30333e" text-anchor="start" >ce-prod-cluster-failover-uswest2</text>
<rect x="3127.90" y="438.30" width="8.10" height="17.80" fill="#4aa0ab" />
<path d="M3141.0,451.4 L3151.7,451.4 L3146.3,442.3 Z" fill="#c8323e"/>
<text x="3156.0" y="451.7" font-size="12.1" fill="#c8323e" color="#c8323e" text-anchor="start" >100.00%</text>
<text x="2071.5" y="473.5" font-size="13" fill="#30333e" color="#30333e" text-anchor="end" >12</text>
<text x="2091.8" y="473.6" font-size="13.2" fill="#30333e" color="#30333e" text-anchor="start" >tudors</text>
<rect x="3127.90" y="459.33" width="8.10" height="17.80" fill="#4aa0ab" />
<path d="M3141.0,472.4 L3151.7,472.4 L3146.3,463.3 Z" fill="#c8323e"/>
<text x="3156.0" y="472.8" font-size="12.1" fill="#c8323e" color="#c8323e" text-anchor="start" >100.00%</text>
<text x="2071.5" y="494.5" font-size="13" fill="#30333e" color="#30333e" text-anchor="end" >13</text>
<text x="2091.8" y="494.6" font-size="13.2" fill="#30333e" color="#30333e" text-anchor="start" >wfmx-ECSDelegate</text>
<rect x="3127.90" y="480.36" width="8.10" height="17.80" fill="#4aa0ab" />
<path d="M3141.0,493.5 L3151.7,493.5 L3146.3,484.4 Z" fill="#c8323e"/>
<text x="3156.0" y="493.8" font-size="12.1" fill="#c8323e" color="#c8323e" text-anchor="start" >100.00%</text>
<text x="2071.5" y="515.6" font-size="13" fill="#30333e" color="#30333e" text-anchor="end" >14</text>
<text x="2091.8" y="515.6" font-size="13.2" fill="#30333e" color="#30333e" text-anchor="start" >terraform-provider-test</text>
<rect x="3127.90" y="501.39" width="8.10" height="17.80" fill="#4aa0ab" />
<path d="M3141.0,514.5 L3151.7,514.5 L3146.3,505.4 Z" fill="#c8323e"/>
<text x="3156.0" y="514.8" font-size="12.1" fill="#c8323e" color="#c8323e" text-anchor="start" >100.00%</text>
<text x="2071.5" y="536.6" font-size="13" fill="#30333e" color="#30333e" text-anchor="end" >15</text>
<text x="2091.8" y="536.7" font-size="13.2" fill="#30333e" color="#30333e" text-anchor="start" >cluster-for-qa-tests</text>
<rect x="3127.90" y="522.42" width="8.10" height="17.80" fill="#4aa0ab" />
<path d="M3141.0,535.5 L3151.7,535.5 L3146.3,526.4 Z" fill="#c8323e"/>
<text x="3156.0" y="535.9" font-size="12.1" fill="#c8323e" color="#c8323e" text-anchor="start" >100.00%</text>
<text x="2071.5" y="557.6" font-size="13" fill="#30333e" color="#30333e" text-anchor="end" >16</text>
<text x="2091.8" y="557.7" font-size="13.2" fill="#30333e" color="#30333e" text-anchor="start" >default</text>
<rect x="3127.90" y="543.45" width="14.10" height="17.80" fill="#4aa0ab" />
<path d="M3147.0,556.6 L3157.7,556.6 L3152.3,547.5 Z" fill="#c8323e"/>
<text x="3162.0" y="556.9" font-size="12.1" fill="#c8323e" color="#c8323e" text-anchor="start" >84.39%</text>
<line x1="2081.20" y1="226.00" x2="2081.20" y2="563.00" stroke="#d4d5da" stroke-width="1.8" />
<line x1="2645.30" y1="226.00" x2="2645.30" y2="563.00" stroke="#e2e3e6" stroke-width="1.5" />
<rect x="3210.00" y="226.00" width="1.80" height="337.00" fill="#e8e8ea" />
<text x="2022.0" y="606.2" font-size="19" fill="#0b1a33" color="#0b1a33" text-anchor="middle" style="stroke-width:0.05px" >Cluster Efficiency Score Over Time</text>
<circle cx="3189" cy="596.4" r="1.4" fill="#6b7385"/>
<circle cx="3189" cy="600.6" r="1.4" fill="#6b7385"/>
<circle cx="3189" cy="604.8" r="1.4" fill="#6b7385"/>
<text x="905.8" y="679.8" font-size="12.8" fill="#1b2235" color="#1b2235" text-anchor="end" >$50,000.00</text>
<text x="905.8" y="753.2" font-size="12.8" fill="#1b2235" color="#1b2235" text-anchor="end" >$40,000.00</text>
<text x="905.8" y="827.1" font-size="12.8" fill="#1b2235" color="#1b2235" text-anchor="end" >$30,000.00</text>
<text x="905.8" y="901.0" font-size="12.8" fill="#1b2235" color="#1b2235" text-anchor="end" >$20,000.00</text>
<text x="905.8" y="973.9" font-size="12.8" fill="#1b2235" color="#1b2235" text-anchor="end" >$10,000.00</text>
<text x="905.8" y="1047.4" font-size="12.8" fill="#1b2235" color="#1b2235" text-anchor="end" >$0.00</text>
<text x="3156.4" y="638.2" font-size="12.8" fill="#1b2235" color="#1b2235" text-anchor="start" >100</text>
<text x="3156.4" y="679.2" font-size="12.8" fill="#1b2235" color="#1b2235" text-anchor="start" >90</text>
<text x="3156.4" y="720.2" font-size="12.8" fill="#1b2235" color="#1b2235" text-anchor="start" >80</text>
<text x="3156.4" y="761.2" font-size="12.8" fill="#1b2235" color="#1b2235" text-anchor="start" >70</text>
<text x="3156.4" y="802.2" font-size="12.8" fill="#1b2235" color="#1b2235" text-anchor="start" >60</text>
<text x="3156.4" y="843.2" font-size="12.8" fill="#1b2235" color="#1b2235" text-anchor="start" >50</text>
<text x="3156.4" y="884.2" font-size="12.8" fill="#1b2235" color="#1b2235" text-anchor="start" >40</text>
<text x="3156.4" y="925.3" font-size="12.8" fill="#1b2235" color="#1b2235" text-anchor="start" >30</text>
<text x="3156.4" y="966.3" font-size="12.8" fill="#1b2235" color="#1b2235" text-anchor="start" >20</text>
<text x="3156.4" y="1007.3" font-size="12.8" fill="#1b2235" color="#1b2235" text-anchor="start" >10</text>
<text x="3156.4" y="1048.3" font-size="12.8" fill="#1b2235" color="#1b2235" text-anchor="start" >0</text>
<text transform="translate(3184.5,835.5) rotate(90)" font-size="12.9" fill="#4a97e0" color="#4a97e0" text-anchor="middle">EfficiencyScore</text>
<text x="944.2" y="1064.0" font-size="12.8" fill="#1b2235" color="#1b2235" text-anchor="middle" >August</text>
<text x="1146.1" y="1064.0" font-size="12.8" fill="#1b2235" color="#1b2235" text-anchor="middle" >September</text>
<text x="1341.4" y="1064.0" font-size="12.8" fill="#1b2235" color="#1b2235" text-anchor="middle" >October</text>
<text x="1543.2" y="1064.0" font-size="12.8" fill="#1b2235" color="#1b2235" text-anchor="middle" >November</text>
<text x="1738.6" y="1064.0" font-size="12.8" fill="#1b2235" color="#1b2235" text-anchor="middle" >December</text>
<text x="1940.4" y="1064.0" font-size="12.8" fill="#1b2235" color="#1b2235" text-anchor="middle" >January '21</text>
<text x="2142.3" y="1064.0" font-size="12.8" fill="#1b2235" color="#1b2235" text-anchor="middle" >February</text>
<text x="2324.6" y="1064.0" font-size="12.8" fill="#1b2235" color="#1b2235" text-anchor="middle" >March</text>
<text x="2526.5" y="1064.0" font-size="12.8" fill="#1b2235" color="#1b2235" text-anchor="middle" >April</text>
<text x="2721.8" y="1064.0" font-size="12.8" fill="#1b2235" color="#1b2235" text-anchor="middle" >May</text>
<text x="2923.7" y="1064.0" font-size="12.8" fill="#1b2235" color="#1b2235" text-anchor="middle" >June</text>
<text x="3119.0" y="1064.0" font-size="12.8" fill="#1b2235" color="#1b2235" text-anchor="middle" >July</text>
<text x="2031.0" y="1082.5" font-size="12.8" fill="#1b2235" color="#1b2235" text-anchor="middle" >Time Period / Month</text>
<polygon points="944.20,1013.00 1146.05,779.90 1341.40,753.30 1543.25,765.20 1738.59,748.60 1940.44,715.90 2142.30,709.70 2324.62,633.60 2526.47,660.40 2721.81,640.80 2923.67,647.00 3119.01,759.00 3119.01,823.10 2923.67,756.60 2721.81,745.10 2526.47,748.50 2324.62,734.10 2142.30,796.80 1940.44,804.50 1738.59,828.60 1543.25,931.40 1341.40,964.60 1146.05,969.30 944.20,1031.90" fill="#b3e4e8" fill-opacity="0.78"/>
<polygon points="944.20,1031.90 1146.05,969.30 1341.40,964.60 1543.25,931.40 1738.59,828.60 1940.44,804.50 2142.30,796.80 2324.62,734.10 2526.47,748.50 2721.81,745.10 2923.67,756.60 3119.01,823.10 3119.01,944.60 2923.67,918.80 2721.81,924.50 2526.47,925.50 2324.62,923.10 2142.30,945.60 1940.44,945.60 1738.59,952.80 1543.25,960.80 1341.40,964.60 1146.05,969.30 944.20,1033.30" fill="#d6daf9" fill-opacity="0.78"/>
<polygon points="944.20,1033.30 1146.05,969.30 1341.40,964.60 1543.25,960.80 1738.59,952.80 1940.44,945.60 2142.30,945.60 2324.62,923.10 2526.47,925.50 2721.81,924.50 2923.67,918.80 3119.01,944.60 3119.01,1042.80 2923.67,1042.80 2721.81,1042.80 2526.47,1042.80 2324.62,1042.80 2142.30,1042.80 1940.44,1042.80 1738.59,1042.80 1543.25,1042.80 1341.40,1042.80 1146.05,1042.80 944.20,1042.80" fill="#fcecea" fill-opacity="0.78"/>
<line x1="923.30" y1="675.20" x2="3140.60" y2="675.20" stroke="#000" stroke-width="1" stroke-opacity="0.095"/>
<line x1="923.30" y1="748.60" x2="3140.60" y2="748.60" stroke="#000" stroke-width="1" stroke-opacity="0.095"/>
<line x1="923.30" y1="822.50" x2="3140.60" y2="822.50" stroke="#000" stroke-width="1" stroke-opacity="0.095"/>
<line x1="923.30" y1="896.40" x2="3140.60" y2="896.40" stroke="#000" stroke-width="1" stroke-opacity="0.095"/>
<line x1="923.30" y1="969.30" x2="3140.60" y2="969.30" stroke="#000" stroke-width="1" stroke-opacity="0.095"/>
<polyline points="944.20,1013.00 1146.05,779.90 1341.40,753.30 1543.25,765.20 1738.59,748.60 1940.44,715.90 2142.30,709.70 2324.62,633.60 2526.47,660.40 2721.81,640.80 2923.67,647.00 3119.01,759.00" fill="none" stroke="#5ccfd9" stroke-width="2" stroke-linejoin="round"/>
<polyline points="944.20,1031.90 1146.05,969.30 1341.40,964.60 1543.25,931.40 1738.59,828.60 1940.44,804.50 2142.30,796.80 2324.62,734.10 2526.47,748.50 2721.81,745.10 2923.67,756.60 3119.01,823.10" fill="none" stroke="#aab5f8" stroke-width="2" stroke-linejoin="round"/>
<polyline points="944.20,1033.30 1146.05,969.30 1341.40,964.60 1543.25,960.80 1738.59,952.80 1940.44,945.60 2142.30,945.60 2324.62,923.10 2526.47,925.50 2721.81,924.50 2923.67,918.80 3119.01,944.60" fill="none" stroke="#fbe3df" stroke-width="1.8" stroke-linejoin="round"/>
<line x1="923.30" y1="1042.80" x2="3140.60" y2="1042.80" stroke="#ccd6eb" stroke-width="1" />
<polyline points="944.20,632.50 1146.05,632.50 1341.40,632.50 1543.25,665.70 1738.59,871.80 1940.44,871.80 2142.30,877.20 2324.62,888.20 2526.47,897.30 2721.81,878.60 2923.67,868.60 3119.01,898.70" fill="none" stroke="#3a8ee0" stroke-width="2" stroke-linejoin="round"/>
<line x1="1797.60" y1="1109.70" x2="1813.00" y2="1109.70" stroke="#f6dcd8" stroke-width="2" />
<text x="1818.0" y="1114.3" font-size="12.9" fill="#6b6d85" color="#6b6d85" text-anchor="start" >Idle Cost</text>
<line x1="1888.80" y1="1109.70" x2="1905.00" y2="1109.70" stroke="#a9b3f5" stroke-width="2" />
<text x="1909.4" y="1114.3" font-size="12.9" fill="#6b6d85" color="#6b6d85" text-anchor="start" >Unallocated Cost</text>
<line x1="2025.50" y1="1109.70" x2="2041.00" y2="1109.70" stroke="#5ccfd9" stroke-width="2" />
<text x="2046.6" y="1114.3" font-size="12.9" fill="#6b6d85" color="#6b6d85" text-anchor="start" >Utilized Cost</text>
<line x1="2138.40" y1="1109.70" x2="2154.00" y2="1109.70" stroke="#2f86dd" stroke-width="2" />
<text x="2159.0" y="1114.3" font-size="12.9" fill="#6b6d85" color="#6b6d85" text-anchor="start" >EfficiencyScore</text>
<text x="893.2" y="1178.1" font-size="19" fill="#0b1a33" color="#0b1a33" text-anchor="middle" style="stroke-width:0.05px" >Historical Cost vs Forecast</text>
<line x1="118.80" y1="1265.00" x2="1741.70" y2="1265.00" stroke="#e6e6e6" stroke-width="1" />
<text x="103.9" y="1269.6" font-size="12.8" fill="#1b2235" color="#1b2235" text-anchor="end" >$4,000.00</text>
<line x1="118.80" y1="1336.10" x2="1741.70" y2="1336.10" stroke="#e6e6e6" stroke-width="1" />
<text x="103.9" y="1340.7" font-size="12.8" fill="#1b2235" color="#1b2235" text-anchor="end" >$2,000.00</text>
<text x="103.9" y="1411.1" font-size="12.8" fill="#1b2235" color="#1b2235" text-anchor="end" >$0.00</text>
<rect x="136.10" y="1347.86" width="23.80" height="58.64" fill="#b1bbf7" />
<rect x="162.62" y="1347.86" width="23.80" height="58.64" fill="#b1bbf7" />
<rect x="189.14" y="1344.66" width="23.80" height="61.84" fill="#b1bbf7" />
<rect x="215.66" y="1339.69" width="23.80" height="66.81" fill="#b1bbf7" />
<rect x="242.18" y="1327.61" width="23.80" height="78.89" fill="#b1bbf7" />
<rect x="268.70" y="1324.76" width="23.80" height="81.74" fill="#b1bbf7" />
<rect x="295.22" y="1318.72" width="23.80" height="87.78" fill="#b1bbf7" />
<rect x="321.74" y="1327.61" width="23.80" height="78.89" fill="#b1bbf7" />
<rect x="348.26" y="1340.75" width="23.80" height="65.75" fill="#b1bbf7" />
<rect x="374.78" y="1342.89" width="23.80" height="63.61" fill="#b1bbf7" />
<rect x="401.30" y="1341.82" width="23.80" height="64.68" fill="#b1bbf7" />
<rect x="427.82" y="1342.89" width="23.80" height="63.61" fill="#b1bbf7" />
<rect x="454.34" y="1342.89" width="23.80" height="63.61" fill="#b1bbf7" />
<rect x="480.86" y="1343.95" width="23.80" height="62.55" fill="#b1bbf7" />
<rect x="507.38" y="1342.89" width="23.80" height="63.61" fill="#b1bbf7" />
<rect x="533.90" y="1334.71" width="23.80" height="71.79" fill="#b1bbf7" />
<rect x="560.42" y="1329.74" width="23.80" height="76.76" fill="#b1bbf7" />
<rect x="586.94" y="1296.69" width="23.80" height="109.81" fill="#b1bbf7" />
<rect x="613.46" y="1293.85" width="23.80" height="112.65" fill="#b1bbf7" />
<rect x="639.98" y="1294.92" width="23.80" height="111.58" fill="#b1bbf7" />
<rect x="666.50" y="1298.83" width="23.80" height="107.67" fill="#b1bbf7" />
<rect x="693.02" y="1309.84" width="23.80" height="96.66" fill="#b1bbf7" />
<rect x="719.54" y="1340.75" width="23.80" height="65.75" fill="#b1bbf7" />
<rect x="746.06" y="1335.78" width="23.80" height="70.72" fill="#b1bbf7" />
<rect x="772.58" y="1297.76" width="23.80" height="108.74" fill="#b1bbf7" />
<rect x="799.10" y="1290.65" width="23.80" height="115.85" fill="#b1bbf7" />
<rect x="825.62" y="1284.97" width="23.80" height="121.53" fill="#b1bbf7" />
<rect x="852.14" y="1293.85" width="23.80" height="112.65" fill="#b1bbf7" />
<polygon points="943.80,1292.88 970.32,1292.88 996.84,1290.45 1023.36,1288.02 1049.88,1285.59 1076.40,1283.15 1102.92,1280.38 1129.44,1277.94 1155.96,1275.16 1182.48,1272.38 1209.00,1269.60 1235.52,1266.82 1262.04,1263.70 1288.56,1260.92 1315.08,1257.79 1341.60,1254.66 1368.12,1251.54 1394.64,1248.41 1421.16,1244.93 1447.68,1241.81 1474.20,1238.33 1500.72,1234.51 1527.24,1231.04 1553.76,1227.56 1580.28,1223.74 1606.80,1219.92 1633.32,1216.09 1659.84,1211.92 1686.36,1208.10 1712.88,1203.93 1712.88,1406.50 943.80,1406.50" fill="#e9fbfd"/>
<line x1="118.80" y1="1406.50" x2="1741.70" y2="1406.50" stroke="#ccd6eb" stroke-width="1" />
<polyline points="943.80,1292.88 970.32,1292.88 996.84,1290.45 1023.36,1288.02 1049.88,1285.59 1076.40,1283.15 1102.92,1280.38 1129.44,1277.94 1155.96,1275.16 1182.48,1272.38 1209.00,1269.60 1235.52,1266.82 1262.04,1263.70 1288.56,1260.92 1315.08,1257.79 1341.60,1254.66 1368.12,1251.54 1394.64,1248.41 1421.16,1244.93 1447.68,1241.81 1474.20,1238.33 1500.72,1234.51 1527.24,1231.04 1553.76,1227.56 1580.28,1223.74 1606.80,1219.92 1633.32,1216.09 1659.84,1211.92 1686.36,1208.10 1712.88,1203.93" fill="none" stroke="#c9f3f8" stroke-width="2"/>
<circle cx="943.80" cy="1292.88" r="3.5" fill="#cff5fa"/>
<circle cx="970.32" cy="1292.88" r="3.5" fill="#cff5fa"/>
<circle cx="996.84" cy="1290.45" r="3.5" fill="#cff5fa"/>
<circle cx="1023.36" cy="1288.02" r="3.5" fill="#cff5fa"/>
<circle cx="1049.88" cy="1285.59" r="3.5" fill="#cff5fa"/>
<circle cx="1076.40" cy="1283.15" r="3.5" fill="#cff5fa"/>
<circle cx="1102.92" cy="1280.38" r="3.5" fill="#cff5fa"/>
<circle cx="1129.44" cy="1277.94" r="3.5" fill="#cff5fa"/>
<circle cx="1155.96" cy="1275.16" r="3.5" fill="#cff5fa"/>
<circle cx="1182.48" cy="1272.38" r="3.5" fill="#cff5fa"/>
<circle cx="1209.00" cy="1269.60" r="3.5" fill="#cff5fa"/>
<circle cx="1235.52" cy="1266.82" r="3.5" fill="#cff5fa"/>
<circle cx="1262.04" cy="1263.70" r="3.5" fill="#cff5fa"/>
<circle cx="1288.56" cy="1260.92" r="3.5" fill="#cff5fa"/>
<circle cx="1315.08" cy="1257.79" r="3.5" fill="#cff5fa"/>
<circle cx="1341.60" cy="1254.66" r="3.5" fill="#cff5fa"/>
<circle cx="1368.12" cy="1251.54" r="3.5" fill="#cff5fa"/>
<circle cx="1394.64" cy="1248.41" r="3.5" fill="#cff5fa"/>
<circle cx="1421.16" cy="1244.93" r="3.5" fill="#cff5fa"/>
<circle cx="1447.68" cy="1241.81" r="3.5" fill="#cff5fa"/>
<circle cx="1474.20" cy="1238.33" r="3.5" fill="#cff5fa"/>
<circle cx="1500.72" cy="1234.51" r="3.5" fill="#cff5fa"/>
<circle cx="1527.24" cy="1231.04" r="3.5" fill="#cff5fa"/>
<circle cx="1553.76" cy="1227.56" r="3.5" fill="#cff5fa"/>
<circle cx="1580.28" cy="1223.74" r="3.5" fill="#cff5fa"/>
<circle cx="1606.80" cy="1219.92" r="3.5" fill="#cff5fa"/>
<circle cx="1633.32" cy="1216.09" r="3.5" fill="#cff5fa"/>
<circle cx="1659.84" cy="1211.92" r="3.5" fill="#cff5fa"/>
<circle cx="1686.36" cy="1208.10" r="3.5" fill="#cff5fa"/>
<circle cx="1712.88" cy="1203.93" r="3.5" fill="#cff5fa"/>
<text x="121.7" y="1428.5" font-size="12.8" fill="#1b2235" color="#1b2235" text-anchor="middle" >Jun 16</text>
<text x="174.7" y="1428.5" font-size="12.8" fill="#1b2235" color="#1b2235" text-anchor="middle" >Jun 18</text>
<text x="227.8" y="1428.5" font-size="12.8" fill="#1b2235" color="#1b2235" text-anchor="middle" >Jun 20</text>
<text x="280.8" y="1428.5" font-size="12.8" fill="#1b2235" color="#1b2235" text-anchor="middle" >Jun 22</text>
<text x="333.9" y="1428.5" font-size="12.8" fill="#1b2235" color="#1b2235" text-anchor="middle" >Jun 24</text>
<text x="386.9" y="1428.5" font-size="12.8" fill="#1b2235" color="#1b2235" text-anchor="middle" >Jun 26</text>
<text x="439.9" y="1428.5" font-size="12.8" fill="#1b2235" color="#1b2235" text-anchor="middle" >Jun 28</text>
<text x="493.0" y="1428.5" font-size="12.8" fill="#1b2235" color="#1b2235" text-anchor="middle" >Jun 30</text>
<text x="546.0" y="1428.5" font-size="12.8" fill="#1b2235" color="#1b2235" text-anchor="middle" >Jul 2</text>
<text x="599.1" y="1428.5" font-size="12.8" fill="#1b2235" color="#1b2235" text-anchor="middle" >Jul 4</text>
<text x="652.1" y="1428.5" font-size="12.8" fill="#1b2235" color="#1b2235" text-anchor="middle" >Jul 6</text>
<text x="705.1" y="1428.5" font-size="12.8" fill="#1b2235" color="#1b2235" text-anchor="middle" >Jul 8</text>
<text x="758.2" y="1428.5" font-size="12.8" fill="#1b2235" color="#1b2235" text-anchor="middle" >Jul 10</text>
<text x="811.2" y="1428.5" font-size="12.8" fill="#1b2235" color="#1b2235" text-anchor="middle" >Jul 12</text>
<text x="864.3" y="1428.5" font-size="12.8" fill="#1b2235" color="#1b2235" text-anchor="middle" >Jul 14</text>
<text x="917.3" y="1428.5" font-size="12.8" fill="#1b2235" color="#1b2235" text-anchor="middle" >Jul 16</text>
<text x="970.3" y="1428.5" font-size="12.8" fill="#1b2235" color="#1b2235" text-anchor="middle" >Jul 18</text>
<text x="1023.4" y="1428.5" font-size="12.8" fill="#1b2235" color="#1b2235" text-anchor="middle" >Jul 20</text>
<text x="1076.4" y="1428.5" font-size="12.8" fill="#1b2235" color="#1b2235" text-anchor="middle" >Jul 22</text>
<text x="1129.5" y="1428.5" font-size="12.8" fill="#1b2235" color="#1b2235" text-anchor="middle" >Jul 24</text>
<text x="1182.5" y="1428.5" font-size="12.8" fill="#1b2235" color="#1b2235" text-anchor="middle" >Jul 26</text>
<text x="1235.5" y="1428.5" font-size="12.8" fill="#1b2235" color="#1b2235" text-anchor="middle" >Jul 28</text>
<text x="1288.6" y="1428.5" font-size="12.8" fill="#1b2235" color="#1b2235" text-anchor="middle" >Jul 30</text>
<text x="1341.6" y="1428.5" font-size="12.8" fill="#1b2235" color="#1b2235" text-anchor="middle" >Aug 1</text>
<text x="1394.7" y="1428.5" font-size="12.8" fill="#1b2235" color="#1b2235" text-anchor="middle" >Aug 3</text>
<text x="1447.7" y="1428.5" font-size="12.8" fill="#1b2235" color="#1b2235" text-anchor="middle" >Aug 5</text>
<text x="1500.7" y="1428.5" font-size="12.8" fill="#1b2235" color="#1b2235" text-anchor="middle" >Aug 7</text>
<text x="1553.8" y="1428.5" font-size="12.8" fill="#1b2235" color="#1b2235" text-anchor="middle" >Aug 9</text>
<text x="1606.8" y="1428.5" font-size="12.8" fill="#1b2235" color="#1b2235" text-anchor="middle" >Aug 11</text>
<text x="1659.9" y="1428.5" font-size="12.8" fill="#1b2235" color="#1b2235" text-anchor="middle" >Aug 13</text>
<text x="1712.9" y="1428.5" font-size="12.8" fill="#1b2235" color="#1b2235" text-anchor="middle" >Aug 15</text>
<text x="929.6" y="1446.2" font-size="12.8" fill="#1b2235" color="#1b2235" text-anchor="middle" >Time Period / Date</text>
<line x1="795.70" y1="1473.60" x2="811.70" y2="1473.60" stroke="#cdf5fa" stroke-width="2" />
<circle cx="803.7" cy="1473.6" r="3.8" fill="#cdf5fa"/>
<text x="817.0" y="1478.2" font-size="12.9" fill="#6b6d85" color="#6b6d85" text-anchor="start" >Forecast Cost</text>
<circle cx="923.4" cy="1473.6" r="6" fill="#b1bbf7"/>
<text x="936.6" y="1478.2" font-size="12.9" fill="#6b6d85" color="#6b6d85" text-anchor="start" >Total Cost</text>
<text x="2488.2" y="1178.6" font-size="19" fill="#0b1a33" color="#0b1a33" text-anchor="middle" style="stroke-width:0.05px" >Current Period vs Last Period</text>
<text x="1803.3" y="1237.0" font-size="12.8" fill="#1b2235" color="#1b2235" text-anchor="end" >3,000</text>
<text x="1803.3" y="1295.0" font-size="12.8" fill="#1b2235" color="#1b2235" text-anchor="end" >2,000</text>
<text x="1803.3" y="1353.9" font-size="12.8" fill="#1b2235" color="#1b2235" text-anchor="end" >1,000</text>
<text x="1803.3" y="1412.0" font-size="12.8" fill="#1b2235" color="#1b2235" text-anchor="end" >0</text>
<polygon points="1831.50,1285.68 1878.33,1330.39 1925.16,1364.44 1971.99,1358.22 2018.82,1353.19 2065.65,1350.23 2112.48,1296.34 2159.31,1288.94 2206.14,1286.86 2252.97,1294.56 2299.80,1301.96 2346.63,1303.74 2393.46,1290.42 2440.29,1278.87 2487.12,1297.46 2533.95,1298.38 2580.78,1307.64 2627.61,1308.26 2674.44,1303.01 2721.27,1295.29 2768.10,1274.92 2814.93,1270.29 2861.76,1260.41 2908.59,1274.92 2955.42,1296.53 3002.25,1299.62 3049.08,1298.38 3095.91,1300.23 3142.74,1299.00 3189.57,1302.09 3189.57,1407.40 1831.50,1407.40" fill="#fbe5e3" fill-opacity="0.5"/>
<polyline points="1831.50,1285.68 1878.33,1330.39 1925.16,1364.44 1971.99,1358.22 2018.82,1353.19 2065.65,1350.23 2112.48,1296.34 2159.31,1288.94 2206.14,1286.86 2252.97,1294.56 2299.80,1301.96 2346.63,1303.74 2393.46,1290.42 2440.29,1278.87 2487.12,1297.46 2533.95,1298.38 2580.78,1307.64 2627.61,1308.26 2674.44,1303.01 2721.27,1295.29 2768.10,1274.92 2814.93,1270.29 2861.76,1260.41 2908.59,1274.92 2955.42,1296.53 3002.25,1299.62 3049.08,1298.38 3095.91,1300.23 3142.74,1299.00 3189.57,1302.09" fill="none" stroke="#f3d6d2" stroke-width="1.6" stroke-opacity="0.8"/>
<polygon points="1831.50,1299.30 1878.33,1285.97 1925.16,1278.57 1971.99,1224.39 2018.82,1218.76 2065.65,1219.95 2112.48,1227.05 2159.31,1244.82 2206.14,1296.34 2252.97,1288.64 2299.80,1225.87 2346.63,1214.02 2393.46,1203.66 2440.29,1219.65 2440.29,1407.40 1831.50,1407.40" fill="#cdd4fd" fill-opacity="0.6"/>
<polyline points="1831.50,1299.30 1878.33,1285.97 1925.16,1278.57 1971.99,1224.39 2018.82,1218.76 2065.65,1219.95 2112.48,1227.05 2159.31,1244.82 2206.14,1296.34 2252.97,1288.64 2299.80,1225.87 2346.63,1214.02 2393.46,1203.66 2440.29,1219.65" fill="none" stroke="#a4b0f5" stroke-width="2"/>
<polyline points="1831.50,1285.68 1878.33,1330.39 1925.16,1364.44 1971.99,1358.22 2018.82,1353.19 2065.65,1350.23 2112.48,1296.34 2159.31,1288.94 2206.14,1286.86 2252.97,1294.56 2299.80,1301.96 2346.63,1303.74 2393.46,1290.42 2440.29,1278.87" fill="none" stroke="#e2c9d6" stroke-width="1.4" stroke-opacity="0.5"/>
<line x1="1819.00" y1="1232.40" x2="3201.80" y2="1232.40" stroke="#000" stroke-width="1" stroke-opacity="0.09"/>
<line x1="1819.00" y1="1290.40" x2="3201.80" y2="1290.40" stroke="#000" stroke-width="1" stroke-opacity="0.09"/>
<line x1="1819.00" y1="1349.30" x2="3201.80" y2="1349.30" stroke="#000" stroke-width="1" stroke-opacity="0.09"/>
<line x1="1819.00" y1="1407.40" x2="3201.80" y2="1407.40" stroke="#ccd6eb" stroke-width="1" />
<text x="1878.3" y="1428.3" font-size="12.8" fill="#1b2235" color="#1b2235" text-anchor="middle" >2</text>
<text x="1972.0" y="1428.3" font-size="12.8" fill="#1b2235" color="#1b2235" text-anchor="middle" >4</text>
<text x="2065.7" y="1428.3" font-size="12.8" fill="#1b2235" color="#1b2235" text-anchor="middle" >6</text>
<text x="2159.3" y="1428.3" font-size="12.8" fill="#1b2235" color="#1b2235" text-anchor="middle" >8</text>
<text x="2253.0" y="1428.3" font-size="12.8" fill="#1b2235" color="#1b2235" text-anchor="middle" >10</text>
<text x="2346.6" y="1428.3" font-size="12.8" fill="#1b2235" color="#1b2235" text-anchor="middle" >12</text>
<text x="2440.3" y="1428.3" font-size="12.8" fill="#1b2235" color="#1b2235" text-anchor="middle" >14</text>
<text x="2533.9" y="1428.3" font-size="12.8" fill="#1b2235" color="#1b2235" text-anchor="middle" >16</text>
<text x="2627.6" y="1428.3" font-size="12.8" fill="#1b2235" color="#1b2235" text-anchor="middle" >18</text>
<text x="2721.3" y="1428.3" font-size="12.8" fill="#1b2235" color="#1b2235" text-anchor="middle" >20</text>
<text x="2814.9" y="1428.3" font-size="12.8" fill="#1b2235" color="#1b2235" text-anchor="middle" >22</text>
<text x="2908.6" y="1428.3" font-size="12.8" fill="#1b2235" color="#1b2235" text-anchor="middle" >24</text>
<text x="3002.2" y="1428.3" font-size="12.8" fill="#1b2235" color="#1b2235" text-anchor="middle" >26</text>
<text x="3095.9" y="1428.3" font-size="12.8" fill="#1b2235" color="#1b2235" text-anchor="middle" >28</text>
<text x="3189.6" y="1428.3" font-size="12.8" fill="#1b2235" color="#1b2235" text-anchor="middle" >30</text>
<text x="2510.0" y="1446.2" font-size="12.8" fill="#1b2235" color="#1b2235" text-anchor="middle" >Day Index</text>
<line x1="2355.00" y1="1473.40" x2="2370.30" y2="1473.40" stroke="#a4b0f5" stroke-width="2" />
<text x="2375.4" y="1478.0" font-size="12.9" fill="#6b6d85" color="#6b6d85" text-anchor="start" >Current Month Cost</text>
<line x1="2507.70" y1="1473.40" x2="2523.00" y2="1473.40" stroke="#f6dcd8" stroke-width="2" />
<text x="2528.0" y="1478.0" font-size="12.9" fill="#6b6d85" color="#6b6d85" text-anchor="start" >Prev Month Cost</text>
<text x="1623.7" y="1542.4" font-size="19" fill="#0b1a33" color="#0b1a33" text-anchor="middle" style="stroke-width:0.05px" >Most Expensive Clusters</text>
<line x1="148.60" y1="1579.50" x2="3202.00" y2="1579.50" stroke="#e6e6e6" stroke-width="1" />
<text x="133.2" y="1584.1" font-size="12.8" fill="#1b2235" color="#1b2235" text-anchor="end" >$30,000.00</text>
<line x1="148.60" y1="1626.30" x2="3202.00" y2="1626.30" stroke="#e6e6e6" stroke-width="1" />
<text x="133.2" y="1630.9" font-size="12.8" fill="#1b2235" color="#1b2235" text-anchor="end" >$25,000.00</text>
<line x1="148.60" y1="1673.10" x2="3202.00" y2="1673.10" stroke="#e6e6e6" stroke-width="1" />
<text x="133.2" y="1677.7" font-size="12.8" fill="#1b2235" color="#1b2235" text-anchor="end" >$20,000.00</text>
<line x1="148.60" y1="1719.90" x2="3202.00" y2="1719.90" stroke="#e6e6e6" stroke-width="1" />
<text x="133.2" y="1724.5" font-size="12.8" fill="#1b2235" color="#1b2235" text-anchor="end" >$15,000.00</text>
<line x1="148.60" y1="1766.70" x2="3202.00" y2="1766.70" stroke="#e6e6e6" stroke-width="1" />
<text x="133.2" y="1771.3" font-size="12.8" fill="#1b2235" color="#1b2235" text-anchor="end" >$10,000.00</text>
<line x1="148.60" y1="1813.50" x2="3202.00" y2="1813.50" stroke="#e6e6e6" stroke-width="1" />
<text x="133.2" y="1818.1" font-size="12.8" fill="#1b2235" color="#1b2235" text-anchor="end" >$5,000.00</text>
<text transform="translate(60.8,1713.7) rotate(-90)" font-size="12.6" fill="#1b2235" color="#1b2235" text-anchor="middle">Cost</text>
<rect x="188.00" y="1834.00" width="209.00" height="20.00" fill="#8e5630" />
<rect x="188.00" y="1837.00" width="209.00" height="17.00" fill="#8a345e" />
<rect x="188.00" y="1844.90" width="209.00" height="9.10" fill="#51498a" />
<rect x="188.00" y="1848.90" width="209.00" height="5.10" fill="#9de4e0" />
<rect x="188.00" y="1851.90" width="209.00" height="2.10" fill="#9ddfa5" />
<rect x="445.20" y="1604.70" width="208.80" height="249.30" fill="#8e5630" />
<rect x="445.20" y="1623.80" width="208.80" height="230.20" fill="#8a345e" />
<rect x="445.20" y="1685.90" width="208.80" height="168.10" fill="#51498a" />
<rect x="445.20" y="1714.50" width="208.80" height="139.50" fill="#9de4e0" />
<rect x="445.20" y="1737.50" width="208.80" height="116.50" fill="#9ddfa5" />
<rect x="693.10" y="1575.60" width="208.90" height="278.40" fill="#8e5630" />
<rect x="693.10" y="1596.80" width="208.90" height="257.20" fill="#8a345e" />
<rect x="693.10" y="1675.90" width="208.90" height="178.10" fill="#51498a" />
<rect x="693.10" y="1706.70" width="208.90" height="147.30" fill="#9de4e0" />
<rect x="693.10" y="1729.70" width="208.90" height="124.30" fill="#9ddfa5" />
<rect x="950.20" y="1600.80" width="208.40" height="253.20" fill="#8e5630" />
<rect x="950.20" y="1619.90" width="208.40" height="234.10" fill="#8a345e" />
<rect x="950.20" y="1703.70" width="208.40" height="150.30" fill="#51498a" />
<rect x="950.20" y="1733.60" width="208.40" height="120.40" fill="#9de4e0" />
<rect x="950.20" y="1754.90" width="208.40" height="99.10" fill="#9ddfa5" />
<rect x="1199.00" y="1609.90" width="208.00" height="244.10" fill="#8e5630" />
<rect x="1199.00" y="1629.80" width="208.00" height="224.20" fill="#8a345e" />
<rect x="1199.00" y="1717.60" width="208.00" height="136.40" fill="#51498a" />
<rect x="1199.00" y="1745.80" width="208.00" height="108.20" fill="#9de4e0" />
<rect x="1199.00" y="1768.80" width="208.00" height="85.20" fill="#9ddfa5" />
<rect x="1455.20" y="1596.00" width="208.50" height="258.00" fill="#8e5630" />
<rect x="1455.20" y="1616.00" width="208.50" height="238.00" fill="#8a345e" />
<rect x="1455.20" y="1698.90" width="208.50" height="155.10" fill="#51498a" />
<rect x="1455.20" y="1726.70" width="208.50" height="127.30" fill="#9de4e0" />
<rect x="1455.20" y="1748.80" width="208.50" height="105.20" fill="#9ddfa5" />
<rect x="1712.30" y="1600.80" width="208.50" height="253.20" fill="#8e5630" />
<rect x="1712.30" y="1619.00" width="208.50" height="235.00" fill="#8a345e" />
<rect x="1712.30" y="1711.00" width="208.50" height="143.00" fill="#51498a" />
<rect x="1712.30" y="1735.80" width="208.50" height="118.20" fill="#9de4e0" />
<rect x="1712.30" y="1756.70" width="208.50" height="97.30" fill="#9ddfa5" />
<rect x="1944.20" y="1569.50" width="207.60" height="284.50" fill="#8e5630" />
<rect x="1944.20" y="1589.00" width="207.60" height="265.00" fill="#8a345e" />
<rect x="1944.20" y="1685.90" width="207.60" height="168.10" fill="#51498a" />
<rect x="1944.20" y="1709.80" width="207.60" height="144.20" fill="#9de4e0" />
<rect x="1944.20" y="1738.00" width="207.60" height="116.00" fill="#9ddfa5" />
<rect x="2201.30" y="1601.70" width="207.60" height="252.30" fill="#8e5630" />
<rect x="2201.30" y="1618.80" width="207.60" height="235.20" fill="#8a345e" />
<rect x="2201.30" y="1702.90" width="207.60" height="151.10" fill="#51498a" />
<rect x="2201.30" y="1713.60" width="207.60" height="140.40" fill="#9de4e0" />
<rect x="2201.30" y="1738.40" width="207.60" height="115.60" fill="#9ddfa5" />
<rect x="2449.00" y="1597.20" width="209.00" height="256.80" fill="#8adce3" />
<rect x="2449.00" y="1603.00" width="209.00" height="251.00" fill="#8a345e" />
<rect x="2449.00" y="1708.90" width="209.00" height="145.10" fill="#9de4e0" />
<rect x="2449.00" y="1716.00" width="209.00" height="138.00" fill="#89c4f0" />
<rect x="2449.00" y="1721.30" width="209.00" height="132.70" fill="#9ddfa5" />
<rect x="2706.00" y="1656.00" width="207.70" height="198.00" fill="#8adce3" />
<rect x="2706.00" y="1666.00" width="207.70" height="188.00" fill="#4ba1ef" />
<rect x="2706.00" y="1670.00" width="207.70" height="184.00" fill="#8a345e" />
<rect x="2706.00" y="1810.60" width="207.70" height="43.40" fill="#89c4f0" />
<rect x="2706.00" y="1819.50" width="207.70" height="34.50" fill="#9ddfa5" />
<rect x="2954.00" y="1763.00" width="208.90" height="91.00" fill="#8adce3" />
<rect x="2954.00" y="1767.10" width="208.90" height="86.90" fill="#4ba1ef" />
<rect x="2954.00" y="1769.00" width="208.90" height="85.00" fill="#8a345e" />
<rect x="2954.00" y="1850.00" width="208.90" height="4.00" fill="#89c4f0" />
<rect x="0" y="1755" width="3232" height="100" fill="url(#fade)"/>
<rect x="0" y="1855" width="3232" height="3" fill="#000"/>
</svg>
</body></html>
